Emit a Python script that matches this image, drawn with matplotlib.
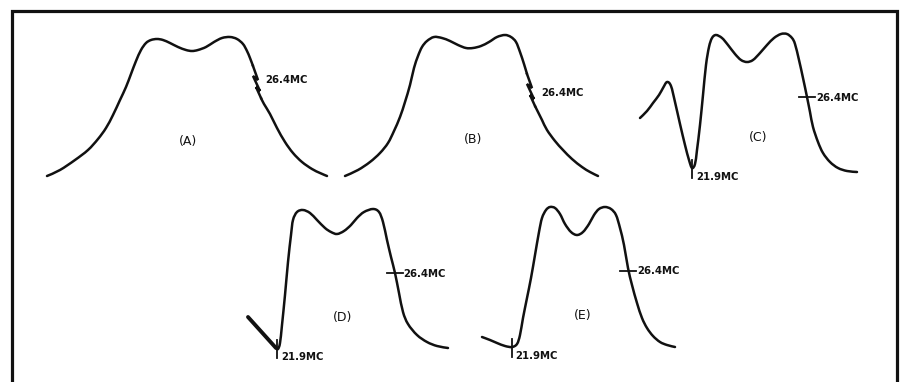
import matplotlib
matplotlib.use('Agg')
import matplotlib.pyplot as plt
from matplotlib.path import Path
from matplotlib.patches import PathPatch

# response curves, traced in picture units (x right, y down)
# A: smooth upper part, the zigzag marker, smooth lower part
a_top_x = [47, 60, 75, 88, 98, 106, 113, 120, 126, 131, 136, 141, 146, 151, 157, 163, 170, 178, 186, 192, 198, 206, 214, 222, 230, 237, 243, 247, 250, 253]
a_top_y = [176, 170, 160, 150, 139, 128, 115, 100, 87, 74, 61, 50, 43, 40, 39, 40, 43, 47, 50, 51, 50, 47, 42, 38, 37, 39, 44, 51, 58, 66]
a_zig_x = [253, 258, 253, 260, 256, 261]
a_zig_y = [66, 80, 76, 91, 87, 98]
a_bot_x = [261, 264, 270, 277, 285, 293, 302, 312, 320, 327]
a_bot_y = [98, 104, 114, 128, 142, 153, 162, 169, 173, 176]

b_top_x = [345, 358, 370, 380, 388, 394, 400, 405, 410, 414, 418, 422, 427, 434, 442, 450, 458, 466, 473, 481, 489, 497, 505, 511, 516, 520, 524, 527]
b_top_y = [176, 170, 162, 153, 143, 131, 117, 102, 85, 68, 56, 47, 41, 37, 38, 41, 45, 48, 48, 46, 42, 37, 35, 37, 42, 52, 64, 74]
b_zig_x = [527, 532, 527, 534, 530, 535]
b_zig_y = [74, 88, 84, 99, 95, 106]
b_bot_x = [535, 538, 542, 547, 555, 563, 572, 582, 590, 598]
b_bot_y = [106, 112, 120, 130, 141, 150, 159, 167, 172, 176]

c_x = [640, 647, 653, 659, 663, 667, 671, 675, 680, 685, 689, 692, 695, 697, 700, 703, 706, 709, 712, 716, 722, 728, 735, 741, 747, 753, 760, 767, 774, 781, 787, 792, 795,
       799, 803, 807, 810, 813, 818, 823, 830, 838, 847, 857]
c_y = [118, 111, 103, 95, 88, 82, 86, 102, 124, 145, 160, 168, 164, 150, 125, 95, 65, 47, 38, 35, 38, 45, 54, 60, 62, 60, 53, 45, 38, 34, 34, 38, 44,
       60, 78, 97, 112, 127, 142, 153, 162, 168, 171, 172]

d_arm_x = [248, 276]
d_arm_y = [317, 348]
d_x = [276, 278, 280, 282, 285, 288, 291, 293, 297, 303, 310, 317, 325, 331, 337, 344, 351, 357, 364, 373, 379, 383, 387, 391, 395, 399, 403, 408, 417, 427, 437, 448]
d_y = [348, 349, 343, 325, 295, 262, 235, 220, 212, 210, 213, 220, 228, 232, 234, 231, 225, 218, 212, 209, 212, 222, 240, 257, 273, 293, 312, 324, 335, 342, 346, 348]

e_x = [482, 490, 497, 505, 512, 517, 520, 523, 527, 531, 535, 539, 542, 546, 550, 555, 560, 565, 571, 577, 583, 589, 594, 599, 605, 611, 616, 620, 624, 628, 632, 637, 642, 647, 653, 660, 667, 675]
e_y = [337, 340, 343, 346, 347, 344, 335, 318, 298, 278, 255, 232, 218, 210, 207, 208, 214, 224, 232, 235, 232, 224, 215, 209, 207, 209, 215, 228, 245, 268, 285, 303, 318, 328, 336, 342, 345, 347]

# curve letters
letters = ['(A)', '(B)', '(C)', '(D)', '(E)']
letter_x = [188, 473, 758, 343, 583]
letter_y = [141, 140, 138, 317, 315]

# frequency marks: 26.4MC (horizontal ticks on C, D, E) and 21.9MC (vertical ticks)
hi_label = '26.4MC'
hi_text_x = [265, 541, 816, 403, 637]
hi_text_y = [80, 93, 98, 274, 271]
hi_tick_x = [807, 395, 628]
hi_tick_y = [97, 273, 271]
lo_label = '21.9MC'
lo_tick_x = [692, 277, 512]
lo_tick_y = [168, 348, 347]
lo_text_x = [696, 281, 515]
lo_text_y = [177, 357, 356]

ink = '#111111'


def smooth(ax, xs, ys, lw=1.8):
    # Catmull-Rom control points turned into cubic Bezier segments
    pts = list(zip(xs, ys))
    verts = [pts[0]]
    codes = [Path.MOVETO]
    n = len(pts)
    for i in range(n - 1):
        p0 = pts[i - 1] if i > 0 else pts[i]
        p1 = pts[i]
        p2 = pts[i + 1]
        p3 = pts[i + 2] if i + 2 < n else pts[i + 1]
        c1 = (p1[0] + (p2[0] - p0[0]) / 6, p1[1] + (p2[1] - p0[1]) / 6)
        c2 = (p2[0] - (p3[0] - p1[0]) / 6, p2[1] - (p3[1] - p1[1]) / 6)
        verts += [c1, c2, p2]
        codes += [Path.CURVE4] * 3
    ax.add_patch(PathPatch(Path(verts, codes), fill=False, edgecolor=ink, lw=lw,
                           capstyle='round', joinstyle='round'))


fig = plt.figure(figsize=(9.06, 3.82), dpi=100)
ax = fig.add_axes([0, 0, 1, 1])
ax.set_xlim(0, 906)
ax.set_ylim(382, 0)
ax.axis('off')

for xs, ys in [(a_top_x, a_top_y), (a_bot_x, a_bot_y), (b_top_x, b_top_y), (b_bot_x, b_bot_y),
               (c_x, c_y), (d_x, d_y), (e_x, e_y)]:
    smooth(ax, xs, ys)
for xs, ys in [(a_zig_x, a_zig_y), (b_zig_x, b_zig_y)]:
    ax.plot(xs, ys, color=ink, lw=1.8, solid_joinstyle='miter')
ax.plot(d_arm_x, d_arm_y, color=ink, lw=2.8, solid_capstyle='round')

# frame
ax.plot([12, 12, 897, 897], [390, 11, 11, 390], color=ink, lw=2.3, solid_joinstyle='miter')

for t, x, y in zip(letters, letter_x, letter_y):
    ax.text(x, y, t, ha='center', va='center', fontsize=9, color=ink, family='DejaVu Sans')

for x, y in zip(hi_text_x, hi_text_y):
    ax.text(x, y, hi_label, ha='left', va='center', fontsize=7.3, fontweight='bold', color=ink, family='DejaVu Sans')
for x, y in zip(hi_tick_x, hi_tick_y):
    ax.plot([x - 8, x + 8], [y, y], color=ink, lw=1.3)

for x, y, tx, ty in zip(lo_tick_x, lo_tick_y, lo_text_x, lo_text_y):
    ax.plot([x, x], [y - 8, y + 10], color=ink, lw=1.3)
    ax.text(tx, ty, lo_label, ha='left', va='center', fontsize=7.3, fontweight='bold', color=ink, family='DejaVu Sans')

fig.savefig('out.png', dpi=100)
